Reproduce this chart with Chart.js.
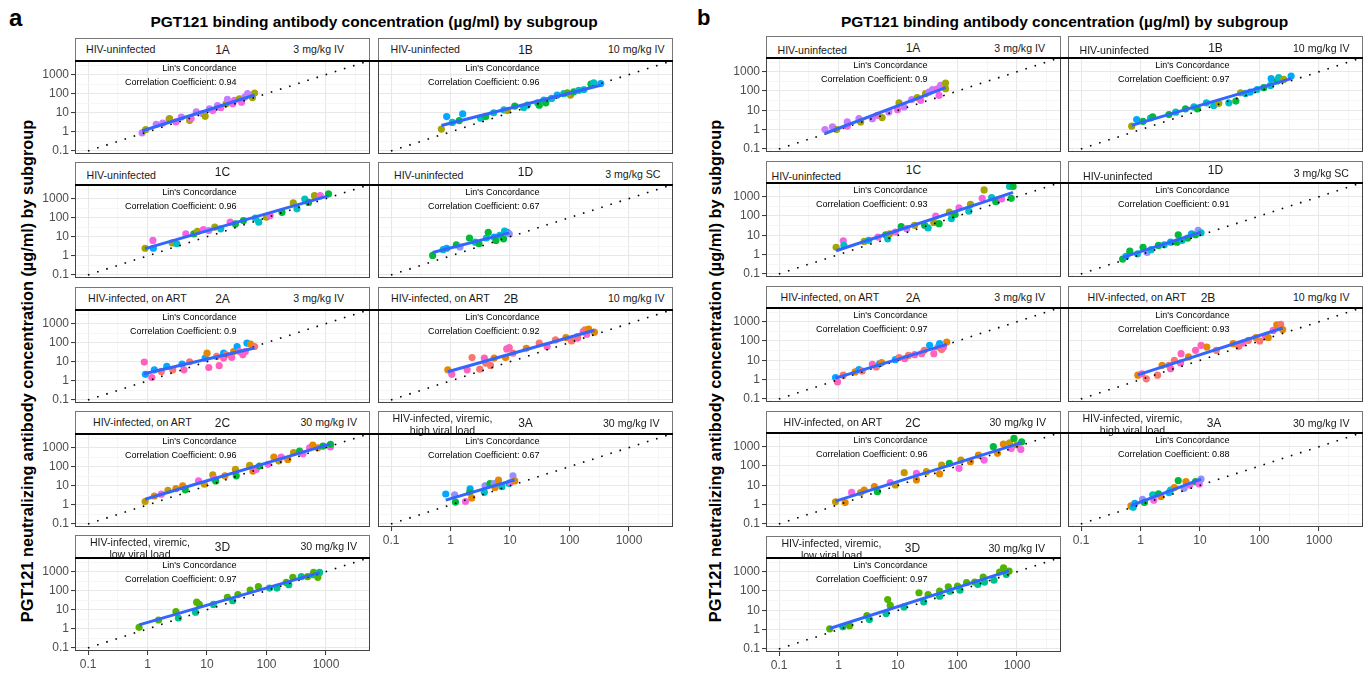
<!DOCTYPE html>
<html>
<head>
<meta charset="utf-8">
<script src="https://cdn.jsdelivr.net/npm/chart.js@4.4.1/dist/chart.umd.min.js"></script>
<style>
  body { margin: 0; background: #fff; width: 1370px; height: 674px; position: relative; overflow: hidden;
         font-family: "Liberation Sans", Arial, sans-serif; }
  .abs { position: absolute; white-space: pre; color: #1a1a1a; }
  canvas { position: absolute; }
  .strip { position: absolute; box-sizing: border-box; border: 1px solid #777; border-bottom: none; background: #fff; }
  .rule { position: absolute; background: #000; height: 2px; }
</style>
</head>
<body>
<script>
// facets, in plotting order
const subgroups = ["1A", "1B", "1C", "1D", "2A", "2B", "2C", "3A", "3D"];
const populations = ["HIV-uninfected", "HIV-uninfected", "HIV-uninfected", "HIV-uninfected",
  "HIV-infected, on ART", "HIV-infected, on ART", "HIV-infected, on ART",
  "HIV-infected, viremic,\nhigh viral load", "HIV-infected, viremic,\nlow viral load"];
const doses = ["3 mg/kg IV", "10 mg/kg IV", "", "3 mg/kg SC", "3 mg/kg IV", "10 mg/kg IV",
  "30 mg/kg IV", "30 mg/kg IV", "30 mg/kg IV"];
const cccA = [0.94, 0.96, 0.96, 0.67, 0.9, 0.92, 0.96, 0.67, 0.97];
const cccB = [0.9, 0.97, 0.93, 0.91, 0.97, 0.93, 0.96, 0.88, 0.97];
const tickValues = [0.1, 1, 10, 100, 1000];
const tickLabels = ["0.1", "1", "10", "100", "1000"];

// [binding conc, neutralizing conc, participant]  -- panel a
const a_1A = [[0.81,0.89,1],[0.93,1.3,0],[1.4,2.5,1],[1.8,2.9,1],[2.3,4.6,1],[2.35,4.9,0],[3.0,3.3,2],[3.7,6.0,1],[5.1,4.0,0],[5.4,5.0,2],[6.6,11,1],[8.5,9,1],[9.3,6.5,0],[11,16,1],[12.5,13,2],[15,24,1],[17,18.5,2],[21,30,0],[22,50,1],[27,30,2],[29,45,2],[35,54,0],[38,36,2],[43,66,1],[48,100,1],[58,62,0],[63,107,0]];
const a_1B = [[0.7,1.4,0],[0.86,6.3,5],[1.07,3.1,4],[1.4,3.9,3],[1.6,8.7,5],[3.2,5.2,4],[3.9,6.3,3],[5.3,10,4],[7.9,14,4],[9,13,0],[12,22,3],[17,19,4],[19.5,25,4],[29,33,4],[31,25,3],[37,46,4],[40,33,3],[50,56,4],[62,84,5],[80,100,4],[92,111,9],[104,84,0],[118,125,3],[143,150,4],[175,165,4],[230,315,3],[255,370,4],[335,340,5]];
const a_1C = [[0.91,2.5,0],[1.23,6.4,2],[1.25,2.5,5],[2.6,4.8,0],[3.1,4.3,4],[4.4,14,2],[6,14,3],[6.9,19,0],[8.7,24,2],[10.7,21,1],[13.5,32,0],[17,26,4],[24.5,58,2],[30,47,3],[41,71,3],[65,94,4],[74,58,4],[100,105,0],[115,128,2],[182,190,3],[282,590,0],[325,290,4],[440,950,4],[510,630,3],[640,1420,0],[800,1420,2],[1100,1740,3]];
const a_1D = [[0.5,1.05,3],[0.75,2.1,4],[0.86,2.5,5],[1.25,3.8,3],[1.44,2.9,12],[2.08,8.6,3],[2.6,5.2,4],[3.0,4.3,3],[4.0,8.6,4],[4.3,17,3],[5.4,9.6,5],[5.8,6.4,3],[6.7,11.7,4],[7.8,7.8,3],[8.1,20,4],[9.0,17,5],[9.7,14,12]];
const a_2A = [[0.88,9.6,11],[0.92,2.2,5],[1.18,1.5,11],[1.3,3.8,5],[1.7,3.1,7],[2.1,5.7,5],[2.65,3.8,7],[3.8,7.5,5],[4.1,3.8,11],[5.1,10,7],[9.3,15.5,5],[10,28,6],[10.7,5.0,11],[14.5,19,7],[16,6.2,11],[19,28,5],[19,15.5,11],[21,23,7],[26,17,11],[28,34,6],[32,63,5],[35,34,11],[40,23,11],[44,34,11],[47,94,5],[54,84,6],[63,63,7]];
const a_2B = [[0.9,3.8,6],[1.05,2.2,11],[1.9,3.8,11],[2.3,16.6,7],[3.1,4.1,7],[3.7,15.5,11],[3.9,8.5,7],[4.7,6.4,7],[5.4,15.5,6],[8.4,16.6,6],[8.8,47,11],[9.7,55,11],[11.2,28,7],[18.8,51,6],[31,94,7],[42,63,11],[58,139,7],[87,185,6],[108,123,7],[136,170,11],[136,210,7],[170,380,11],[182,470,7],[195,275,11],[210,520,6],[262,355,6]];
const a_2C = [[0.91,1.5,10],[1.3,2.9,6],[1.7,3.6,2],[2.2,5.8,10],[3.0,7.1,6],[3.9,9.8,6],[4.3,6.1,3],[7.2,18,2],[9.0,12,10],[12.5,37,10],[13.3,22,2],[14,18,3],[20,33,6],[30,72,10],[31,33,3],[52,118,10],[59,59,6],[67,72,2],[76,108,3],[106,132,2],[133,320,6],[161,200,10],[177,320,2],[228,240,6],[285,540,10],[360,660,3],[410,475,2],[530,980,2],[600,1350,6],[730,980,6],[890,1200,3],[1190,1070,2],[1190,1470,3]];
const a_3A = [[0.83,3.7,5],[1.17,3.3,12],[1.21,1.4,3],[1.78,1.5,2],[2.13,6.8,5],[2.1,4.5,3],[2.27,2.3,6],[3.7,4.5,4],[3.8,10,12],[4.6,13,3],[5.4,13,12],[5.6,8.2,6],[6.4,20,6],[7.3,9,4],[9.6,13,4],[10.2,15,2],[11.2,33,12],[12,18,6]];
const a_3D = [[0.72,1.2,9],[1.53,2.9,9],[3.0,8,9],[3.3,3.7,8],[6.4,7.4,8],[6.7,25,9],[7.4,19,9],[12.8,19,8],[22,45,9],[27,30,8],[33,62,9],[53,108,9],[73,162,9],[112,137,8],[150,137,8],[215,270,9],[237,205,8],[277,500,9],[385,540,8],[490,540,9],[600,680,8],[620,900,9],[730,500,9],[780,900,8]];

// panel b
const b_1A = [[0.59,1.0,1],[0.79,1.4,1],[0.93,1.0,0],[1.4,1.5,2],[1.4,2.5,1],[2.2,3.7,1],[2.35,2.5,0],[3.7,3.7,1],[4.5,5.5,2],[5.4,4.2,0],[7.0,8.2,1],[9.8,10.8,2],[10.4,24,0],[12.6,15,1],[17,36,1],[21,45,0],[24,33,2],[29,73,0],[33,89,1],[38,117,1],[46,130,2],[49,60,2],[52,195,1],[63,260,0],[63,132,0]];
const b_1B = [[0.71,1.5,0],[0.86,3.3,5],[1.1,2.7,3],[1.47,4.0,4],[1.6,4.6,3],[3.0,6.0,3],[3.9,8,4],[5.7,12,3],[7.9,15,4],[9,12,3],[12.8,24.5,4],[17,18,4],[20.7,23,0],[30.5,24.5,4],[40,30,3],[48,81,0],[58,75,4],[70,88,5],[91,120,4],[118,148,3],[153,195,4],[157,435,5],[198,330,3],[210,490,4],[255,400,0],[340,600,5]];
const b_1C = [[0.91,2.4,0],[1.2,5.2,2],[1.23,3.0,4],[2.7,4.8,0],[3.2,5.4,4],[4.6,8.1,2],[6.2,10.7,3],[6.7,6.6,4],[7.2,12,0],[9.0,14.8,2],[11.3,28,3],[14,22,1],[19,33,0],[28,33,3],[32,24,4],[40,46,0],[43,100,2],[49,40,3],[73,160,0],[79,74,4],[91,120,3],[106,268,2],[155,178,4],[165,400,0],[260,820,2],[280,2240,0],[375,890,4],[440,550,3],[550,760,2],[750,3400,4],[800,820,3],[860,3400,3]];
const b_1D = [[0.5,0.59,3],[0.57,0.82,5],[0.66,1.5,3],[0.89,1.1,4],[1.1,2.4,3],[1.29,1.3,12],[1.5,1.8,4],[2.0,3.0,3],[2.5,3.2,4],[3.2,4.4,5],[4.1,4.4,3],[4.3,10.7,3],[5.0,5.4,4],[6.2,7.2,3],[7.2,12,5],[8.4,10.7,3],[9.3,18,12],[10.4,13.6,4]];
const b_2A = [[0.89,1.27,5],[0.96,0.76,11],[1.2,1.7,7],[1.9,2.5,6],[2.2,3.3,5],[2.5,2.8,7],[3.7,6.2,11],[4.3,4.5,7],[4.9,6.7,5],[5.3,7.6,6],[9.0,10.8,5],[10.4,13.7,7],[13,12.2,11],[15,18,7],[19,19.6,11],[25,22,11],[27.6,33,7],[34,60,5],[40,22,11],[47,49,7],[50,73,5],[54,36,7],[58,49,11],[66,89,6]];
const b_2B = [[0.9,1.7,6],[1.05,2.0,11],[1.25,1.1,7],[1.93,1.7,7],[2.3,5.5,6],[3.0,5.5,7],[3.2,3.7,11],[3.7,10,7],[4.7,7.3,11],[4.8,22,11],[6.4,15,6],[8.4,33,11],[10.4,60,11],[13,49,6],[18.8,33,7],[36,73,6],[45,53,7],[52,79,11],[65,108,7],[87,148,6],[101,100,7],[126,173,11],[140,148,6],[170,355,11],[195,690,6],[227,720,7],[245,390,6]];
const b_2C = [[0.89,1.4,10],[1.29,1.27,6],[1.66,4.3,2],[2.35,4.2,10],[2.7,5.7,6],[4.0,8.5,6],[4.5,4.7,3],[7.4,13.7,2],[9.0,10.4,10],[12.7,45,10],[20.4,19,6],[20.4,42,2],[30,51,10],[50,39,6],[54,112,10],[73,138,3],[106,76,2],[114,204,10],[165,166,6],[225,370,6],[280,204,2],[400,1000,3],[470,455,6],[590,1380,6],[750,1600,10],[800,815,2],[890,2700,3],[1000,1230,10],[1160,720,2],[1200,1800,3]];
const b_3A = [[0.69,0.85,6],[0.75,0.73,4],[0.8,1.17,5],[1.08,1.9,12],[1.16,1.3,3],[1.6,3.2,4],[1.67,1.7,2],[2.0,3.6,3],[2.2,2.6,6],[3.0,4.2,5],[3.2,5.7,4],[3.7,7.6,6],[4.3,17.5,3],[5.4,7,12],[5.8,15.5,6],[6.7,10.4,2],[8.4,15.5,3],[9.7,11.7,2],[10.4,21,12]];
const b_3D = [[0.71,1.1,9],[1.18,1.4,8],[1.53,1.6,9],[3.0,5.3,9],[3.3,3.3,8],[6.3,6.8,8],[6.7,36,9],[7.4,18,9],[12.6,15,8],[22.5,81,9],[27,27,8],[32,66,9],[50,98,9],[50,54,8],[70,166,9],[74,98,8],[100,178,9],[110,110,8],[142,270,9],[195,290,9],[220,218,8],[270,525,9],[285,290,8],[410,365,8],[510,955,9],[595,1590,9],[660,720,8],[735,1070,9]];

const palette = ["#A3A500", "#C77CFF", "#F564E3", "#00BA38", "#00BFC4", "#00A9FF", "#E58700",
  "#F8766D", "#00C08B", "#53B400", "#C49A00", "#FF62BC", "#9590FF"];

const FONT = '"Liberation Sans", Arial, sans-serif';

// strip text placement (offsets within each strip)
const stripPosA = [
  { p: 11, py: 11.5, m: 147.5, my: 11.5, d: 26, dy: 11.5 },
  { p: 12.5, py: 11.5, m: 147.5, my: 11.5, d: 8.5, dy: 11.5 },
  { p: 11.5, py: 13.5, m: 147.5, my: 10 },
  { p: 16, py: 13.5, m: 147.5, my: 10, d: 12.5, dy: 12.5 },
  { p: 13, py: 11.5, m: 147.5, my: 11.5, d: 26, dy: 11.5 },
  { p: 13, py: 11.5, m: 133, my: 11.5, d: 8.5, dy: 11.5 },
  { p: 18, py: 11.5, m: 147.5, my: 11.5, d: 13, dy: 11.5 },
  { pc: 64.5, m: 147.5, my: 12, d: 13.5, dy: 12 },
  { pc: 65, m: 147.5, my: 12, d: 13, dy: 11.5 }
];
const stripPosB = [
  { p: 11.5, py: 14, m: 147, my: 11.7, d: 16, dy: 12.3 },
  { p: 11.5, py: 14, m: 147.5, my: 11.5, d: 13.5, dy: 12 },
  { p: 5.5, py: 15.5, m: 147.5, my: 9.3 },
  { p: 15, py: 15.5, m: 147.5, my: 9.3, d: 14, dy: 12.8 },
  { p: 14.5, py: 11.5, m: 147, my: 11.5, d: 16, dy: 11.5 },
  { p: 19.5, py: 11.5, m: 140, my: 11.5, d: 13.5, dy: 11.5 },
  { p: 17.5, py: 11.5, m: 147, my: 11.5, d: 15, dy: 11.5 },
  { pc: 64.5, m: 146, my: 12, d: 13.5, dy: 12 },
  { pc: 65.5, m: 146.5, my: 12, d: 16, dy: 12 }
];

const panels = [
  { tag: "a", tagX: 9, tagSize: 24, colLeft: [75, 378], width: 295, stripTop: [38, 162, 287, 411, 535],
    stripH: 23, plotH: 93, facets: [a_1A, a_1B, a_1C, a_1D, a_2A, a_2B, a_2C, a_3A, a_3D],
    ccc: cccA, strips: stripPosA, yTitleX: 27 },
  { tag: "b", tagX: 697, tagSize: 22, colLeft: [766, 1068], width: 295, stripTop: [36, 161, 286, 411, 536],
    stripH: 22, plotH: 94, facets: [b_1A, b_1B, b_1C, b_1D, b_2A, b_2B, b_2C, b_3A, b_3D],
    ccc: cccB, strips: stripPosB, yTitleX: 715 }
];

// axis limits (log10 space, as ggplot expands them)
const xMin = Math.pow(10, -1.22), xMax = Math.pow(10, 3.74);
const yMin = Math.pow(10, -1.16), yMax = Math.pow(10, 3.71);

const gridValues = [];
tickValues.forEach(v => { gridValues.push(v); gridValues.push(v * Math.sqrt(10)); });
const isMajor = v => tickValues.includes(v);

function addText(str, x, y, o) {
  const d = document.createElement("div");
  d.className = "abs";
  d.textContent = str;
  const lh = o.lh || Math.round(o.size * 1.2);
  d.style.font = (o.bold ? "bold " : "") + o.size + "px " + FONT;
  d.style.lineHeight = lh + "px";
  d.style.left = x + "px";
  d.style.top = (y - (o.lines || 1) * lh / 2) + "px";
  if (o.color) d.style.color = o.color;
  if (o.center) d.style.textAlign = "center";
  let tf = "";
  if (o.align === "center") tf = "translateX(-50%)";
  if (o.align === "right") tf = "translateX(-100%)";
  if (o.rotate) tf = "translate(-50%,-50%) rotate(-90deg)";
  d.style.transform = tf;
  document.body.appendChild(d);
  return d;
}

function fitLine(pts) {
  const lx = pts.map(p => Math.log10(p[0])), ly = pts.map(p => Math.log10(p[1]));
  const n = lx.length;
  const mx = lx.reduce((s, v) => s + v, 0) / n, my = ly.reduce((s, v) => s + v, 0) / n;
  let sxy = 0, sxx = 0;
  for (let k = 0; k < n; k++) { sxy += (lx[k] - mx) * (ly[k] - my); sxx += (lx[k] - mx) ** 2; }
  const slope = sxy / sxx, icpt = my - slope * mx;
  const x0 = Math.min(...lx), x1 = Math.max(...lx);
  return [{ x: 10 ** x0, y: 10 ** (icpt + slope * x0) }, { x: 10 ** x1, y: 10 ** (icpt + slope * x1) }];
}

const panelFrame = {
  id: "panelFrame",
  afterDraw(chart) {
    const a = chart.chartArea, ctx = chart.ctx;
    ctx.save();
    ctx.strokeStyle = "#444";
    ctx.lineWidth = 1;
    ctx.strokeRect(a.left + 0.5, a.top + 0.5, a.right - a.left - 1, a.bottom - a.top - 1);
    ctx.restore();
  }
};

function axis(kind, show, min, max) {
  return {
    type: "logarithmic", min: min, max: max,
    position: kind === "x" ? "bottom" : "left",
    afterBuildTicks: s => { s.ticks = gridValues.map(v => ({ value: v })); },
    afterFit: s => {
      if (kind === "x") s.height = show ? 24 : 0; else s.width = show ? 72 : 0;
      s.paddingLeft = s.paddingRight = s.paddingTop = s.paddingBottom = 0;
    },
    ticks: {
      display: show, autoSkip: false, maxRotation: 0, padding: 2, color: "#4D4D4D",
      font: { family: FONT, size: 12 },
      callback: v => { const k = tickValues.indexOf(v); return k >= 0 ? tickLabels[k] : ""; }
    },
    grid: {
      color: c => (c.tick && !isMajor(c.tick.value)) ? "#F2F2F2" : "#E8E8E8",
      lineWidth: c => (c.tick && !isMajor(c.tick.value)) ? 0.7 : 1.1,
      drawTicks: show, tickLength: 4, tickWidth: 1,
      tickColor: c => (c.tick && isMajor(c.tick.value)) ? "#333" : "rgba(0,0,0,0)"
    },
    border: { display: false }
  };
}

panels.forEach(panel => {
  const L0 = panel.colLeft[0], R1 = panel.colLeft[1] + panel.width;
  // panel tag, titles
  addText(panel.tag, panel.tagX, 18, { size: panel.tagSize, bold: true, color: "#000", lh: 26 });
  addText("PGT121 binding antibody concentration (µg/ml) by subgroup", (L0 + R1) / 2, 21,
    { size: 15.5, bold: true, color: "#000", align: "center" });
  addText("PGT121 neutralizing antibody concentration (µg/ml) by subgroup", panel.yTitleX, 381,
    { size: 16.3, bold: true, color: "#000", rotate: true });

  panel.facets.forEach((pts, i) => {
    const r = Math.floor(i / 2), c = i % 2;
    const L = panel.colLeft[c], W = panel.width;
    const sTop = panel.stripTop[r], top = sTop + panel.stripH, H = panel.plotH;
    const showY = c === 0, showX = (i === 7 || i === 8);
    const padL = showY ? 72 : 0, padB = showX ? 24 : 0;

    // strip
    const s = document.createElement("div");
    s.className = "strip";
    s.style.left = L + "px"; s.style.top = sTop + "px";
    s.style.width = W + "px"; s.style.height = panel.stripH + "px";
    document.body.appendChild(s);

    // chart
    const cv = document.createElement("canvas");
    cv.width = W + padL; cv.height = H + padB;
    cv.style.left = (L - padL) + "px"; cv.style.top = top + "px";
    cv.style.width = (W + padL) + "px"; cv.style.height = (H + padB) + "px";
    document.body.appendChild(cv);

    new Chart(cv, {
      type: "scatter",
      data: {
        datasets: [
          { type: "line", data: fitLine(pts), borderColor: "#3366FF", borderWidth: 3, pointRadius: 0,
            fill: false, tension: 0, clip: 0 },
          { type: "line", data: [{ x: 0.001, y: 0.001 }, { x: 100000, y: 100000 }], borderColor: "#000",
            borderWidth: 1.6, borderDash: [1.6, 8], pointRadius: 0, fill: false, tension: 0, clip: 0 },
          { data: pts.map(p => ({ x: p[0], y: p[1] })), pointRadius: 3.6, pointBorderWidth: 0,
            pointBackgroundColor: pts.map(p => palette[p[2]]), clip: 0 }
        ]
      },
      options: {
        responsive: false, animation: false, devicePixelRatio: 1, events: [],
        layout: { padding: 0, autoPadding: false },
        plugins: { legend: { display: false }, tooltip: { enabled: false } },
        scales: { x: axis("x", showX, xMin, xMax), y: axis("y", showY, yMin, yMax) }
      },
      plugins: [panelFrame]
    });

    // strip texts
    const sp = panel.strips[i];
    if (sp.pc !== undefined) {
      addText(populations[i], L + sp.pc, sTop + 13, { size: 10.6, lh: 12.5, lines: 2, align: "center", center: true });
    } else {
      addText(populations[i], L + sp.p, sTop + sp.py, { size: 10.6 });
    }
    addText(subgroups[i], L + sp.m, sTop + sp.my, { size: 12, align: "center" });
    if (doses[i]) addText(doses[i], L + W - sp.d, sTop + sp.dy, { size: 10.6, align: "right" });

    // concordance annotation
    addText("Lin's Concordance", L + 161.5, top + 7.5, { size: 9, align: "right", color: "#000" });
    addText("Correlation Coefficient: " + panel.ccc[i], L + 161.5, top + 21, { size: 9, align: "right", color: "#000" });
  });

  // black rule under strips
  panel.stripTop.forEach((t, r) => {
    const d = document.createElement("div");
    d.className = "rule";
    d.style.left = L0 + "px";
    d.style.top = (t + panel.stripH - 1) + "px";
    d.style.width = ((r < 4 ? R1 : L0 + panel.width) - L0) + "px";
    document.body.appendChild(d);
  });
});
</script>
</body>
</html>
